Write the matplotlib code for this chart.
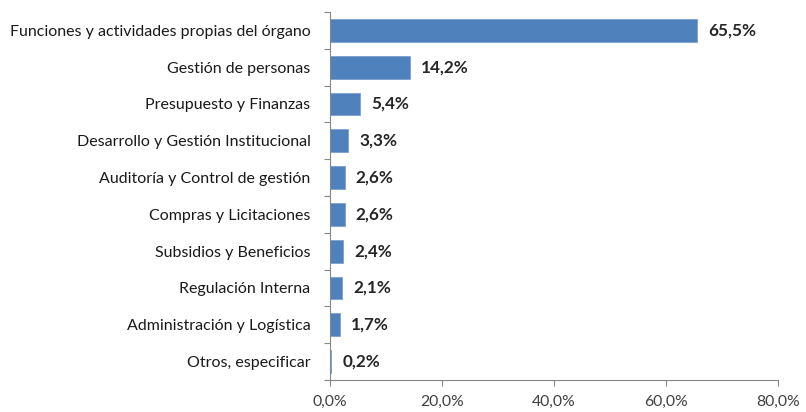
import numpy as np
import matplotlib.pyplot as plt
from matplotlib.ticker import FuncFormatter, FixedLocator

categorias = [
    "Funciones y actividades propias del órgano",
    "Gestión de personas",
    "Presupuesto y Finanzas",
    "Desarrollo y Gestión Institucional",
    "Auditoría y Control de gestión",
    "Compras y Licitaciones",
    "Subsidios y Beneficios",
    "Regulación Interna",
    "Administración y Logística",
    "Otros, especificar",
]
porcentajes = [65.5, 14.2, 5.4, 3.3, 2.6, 2.6, 2.4, 2.1, 1.7, 0.2]
xticks = [0, 20, 40, 60, 80]

plt.rcParams['font.family'] = ['Lato', 'DejaVu Sans']

fig = plt.figure(figsize=(8.06, 4.12), dpi=100)
ax = fig.add_axes([330/806, 1 - 380/412, 448/806, 368/412])

y = np.arange(len(categorias))
ax.barh(y, porcentajes, height=0.62, color="#4F81BD", edgecolor="#7A9FCF", linewidth=0.6)

for yi, v in zip(y, porcentajes):
    ax.text(v + 2.0, yi, f"{v:.1f}%".replace(".", ","), va="center", ha="left",
            fontsize=12.3, fontweight="bold", color="#262626")

ax.set_ylim(len(categorias) - 0.5, -0.5)
ax.set_xlim(0, 80)
ax.set_yticks(y)
ax.set_yticklabels(categorias, fontsize=11.5, color="#1a1a1a")
ax.yaxis.set_minor_locator(FixedLocator(np.arange(-0.5, len(categorias), 1)))
ax.tick_params(axis="y", which="major", length=0, pad=14)
ax.tick_params(axis="y", which="minor", length=4, color="#868686", width=0.8)

ax.set_xticks(xticks)
ax.xaxis.set_major_formatter(FuncFormatter(lambda v, p: f"{v:.1f}%".replace(".", ",")))
ax.tick_params(axis="x", length=4, color="#868686", width=0.8, labelsize=11.3, labelcolor="#404040", pad=7)

for s in ["top", "right"]:
    ax.spines[s].set_visible(False)
for s in ["left", "bottom"]:
    ax.spines[s].set_color("#868686")
    ax.spines[s].set_linewidth(0.8)

fig.savefig("out.png", dpi=100)
